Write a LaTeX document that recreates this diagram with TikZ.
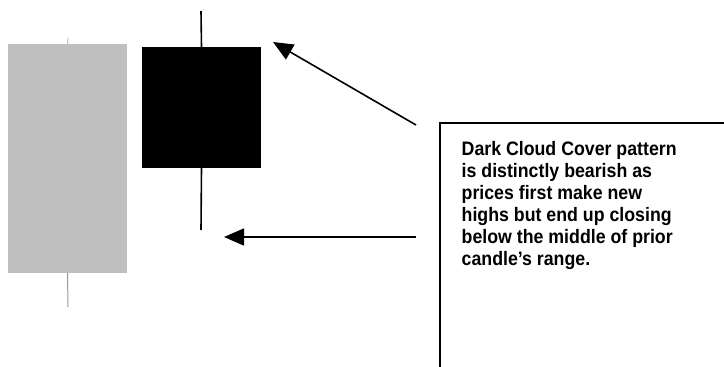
\documentclass[tikz,border=0pt]{standalone}
\usepackage{fontspec}
\setmainfont{Liberation Sans}
\newfontfamily\condfont[FakeStretch=0.91]{Liberation Sans}
\usetikzlibrary{arrows.meta}
\begin{document}
\begin{tikzpicture}[x=1pt,y=-1pt,
  candle/.style={draw=none,inner sep=0pt,outer sep=0pt},
  wick/.style={line width=1.6pt},
  pointer/.style={line width=1.6pt,-{Triangle[length=20pt,width=17pt]}},
  note/.style={align=left,inner sep=0pt,anchor=base west,
    font=\condfont\bfseries\fontsize{19.5}{22}\selectfont}]
\useasboundingbox (0,0) rectangle (724,367);
% gray candle
\node[candle,fill=black!25,minimum width=119pt,minimum height=229pt] (gray) at (67.5,158.5) {};
\coordinate (gtop) at (68,38);
\coordinate (gbot) at (68,307);
\draw[black!25,line width=1pt] (gtop) -- (gray.north);
\draw[black!40,line width=1pt] (gray.south) -- (gbot);
% black candle
\node[candle,fill=black,minimum width=119pt,minimum height=121pt] (blk) at (201.5,107.5) {};
\coordinate (btop) at (201,11);
\coordinate (bbot) at (201,230);
\draw[wick] (btop) -- (blk.north);
\draw[wick] (blk.south) -- (bbot);
% note box
\coordinate (boxtl) at (440,123);
\coordinate (boxtr) at (724,123);
\coordinate (boxbl) at (440,367);
\draw[line width=1.6pt] (boxbl) -- (boxtl) -- (boxtr);
\node[note] (txt) at (461.5,265) {Dark Cloud Cover pattern\\is distinctly bearish as\\prices first make new\\highs but end up closing\\below the middle of prior\\candle’s range.};
% arrows
\coordinate (a1s) at (416,125);
\coordinate (a1e) at (273,42);
\coordinate (a2s) at (416,237);
\coordinate (a2e) at (224,237);
\draw[pointer] (a1s) -- (a1e);
\draw[pointer] (a2s) -- (a2e);
\end{tikzpicture}
\end{document}
